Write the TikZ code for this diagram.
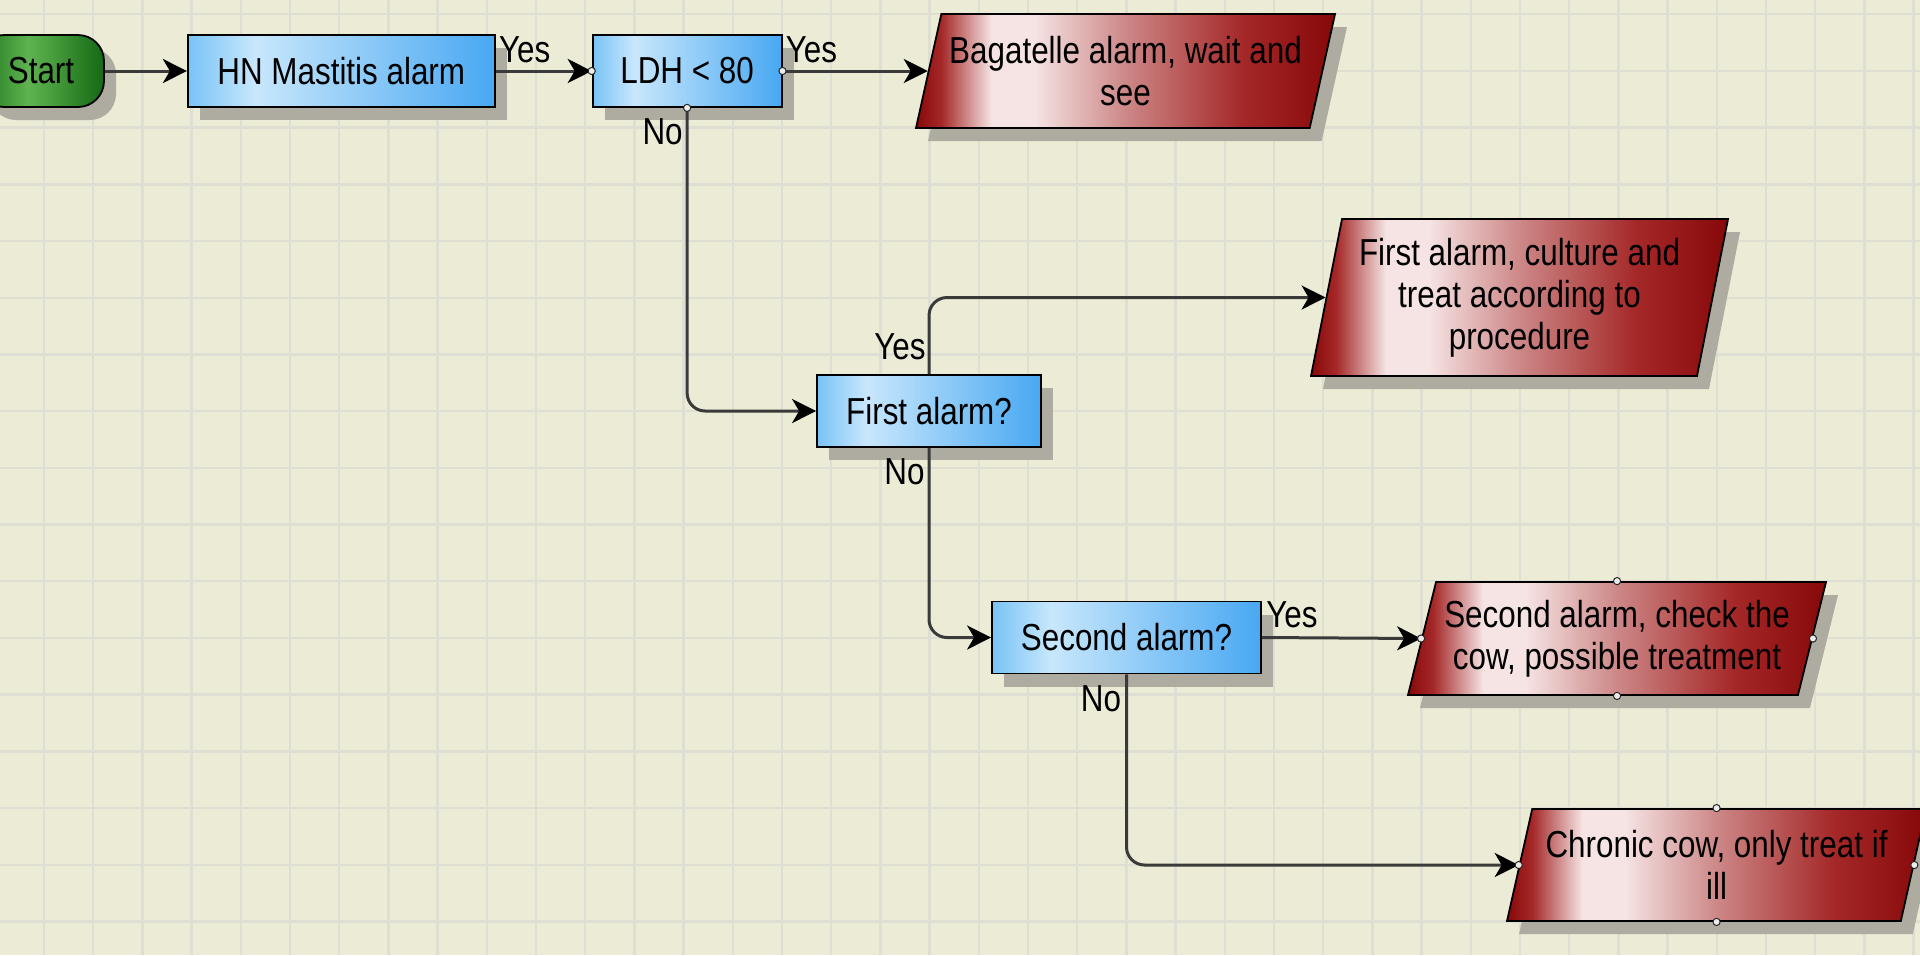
\documentclass[tikz,border=0pt]{standalone}
\usepackage{fontspec}
\setmainfont[FakeStretch=0.835]{Liberation Sans}
\usepackage{xcolor}
\usepackage{tikz}
\usetikzlibrary{positioning, shapes.geometric, arrows.meta, shadows}

\definecolor{paper}{RGB}{236,236,214}
\definecolor{gridgrey}{RGB}{222,222,210}
\definecolor{shadowgrey}{RGB}{174,172,160}
\definecolor{wire}{RGB}{58,58,58}
\definecolor{blueA}{RGB}{120,195,246}
\definecolor{blueB}{RGB}{200,231,252}
\definecolor{blueC}{RGB}{72,168,242}
\definecolor{redA}{RGB}{135,8,8}
\definecolor{redB}{RGB}{246,228,228}
\definecolor{redC}{RGB}{205,135,135}
\definecolor{redD}{RGB}{165,40,40}
\definecolor{greenA}{RGB}{30,115,28}
\definecolor{greenB}{RGB}{95,180,80}
\definecolor{greenC}{RGB}{20,105,20}

\pgfdeclarehorizontalshading{boxglow}{100bp}{color(0bp)=(blueA); color(25bp)=(blueA); color(36bp)=(blueB); color(75bp)=(blueC); color(100bp)=(blueC)}
\pgfdeclarehorizontalshading{alarmglow}{100bp}{color(0bp)=(redA); color(25bp)=(redA); color(28bp)=(redD); color(34bp)=(redB); color(39bp)=(redB); color(50bp)=(redC); color(64bp)=(redD); color(75bp)=(redA); color(100bp)=(redA)}
\pgfdeclarehorizontalshading{startglow}{100bp}{color(0bp)=(greenA); color(25bp)=(greenA); color(45bp)=(greenB); color(75bp)=(greenC); color(100bp)=(greenC)}

\tikzset{
  gridline/.style={draw=gridgrey, line width=1.2pt},
  boxshadow/.style={drop shadow={shadow xshift=6pt, shadow yshift=-6.5pt, fill=shadowgrey, opacity=1}},
  startbox/.style={draw=black, line width=0.9pt, rectangle, rounded corners=13pt, minimum width=63pt, minimum height=36pt, inner sep=0pt, shade, shading=startglow, boxshadow},
  flowbox/.style={draw=black, line width=0.9pt, rectangle, minimum height=36pt, inner sep=0pt, shade, shading=boxglow, boxshadow},
  alarmbox/.style={draw=black, line width=0.9pt, trapezium, trapezium stretches body, inner xsep=-6pt, inner ysep=0pt, align=center, shade, shading=alarmglow, boxshadow},
  flow/.style={draw=wire, line width=1.5pt, rounded corners=9pt, -{Stealth[length=12pt, width=12pt, inset=3.5pt, color=black]}},
  lbl/.style={inner sep=0pt},
  port/.style={draw=black!85, fill=white!85!gray, line width=0.5pt}
}

\begin{document}
\begin{tikzpicture}[x=0.5pt, y=-0.5pt, font=\fontsize{18.8pt}{21pt}\selectfont]
    \useasboundingbox (0,0) rectangle (1920,955);
    % Paper
    \fill[paper] (0,0) rectangle (1920,955);
    \foreach \k in {0,...,38}
        \draw[gridline] ({44+49.2*\k},0) -- ({44+49.2*\k},955);
    \foreach \k in {0,...,16}
        \draw[gridline] (0,{14.2+56.7*\k}) -- (1920,{14.2+56.7*\k});

    % Nodes
    \node[startbox] (start) at (41,71) {Start};
    \node[flowbox, minimum width=153.5pt, right=41pt of start] (hn) {HN Mastitis alarm};
    \node[flowbox, minimum width=94.5pt, right=48pt of hn] (ldh) {LDH < 80};
    \node[alarmbox, trapezium left angle=70, trapezium right angle=110, minimum width=209.5pt, minimum height=57pt] (bagatelle) at (1125.5,71) {Bagatelle alarm, wait and\\see};
    \node[flowbox, minimum width=112pt] (first) at (929,411) {First alarm?};
    \node[alarmbox, trapezium left angle=75.4, trapezium right angle=104.6, minimum width=208.5pt, minimum height=78.5pt] (culture) at (1519.5,297.5) {First alarm, culture and\\treat according to\\procedure};
    \node[flowbox, minimum width=134.5pt] (second) at (1126.5,637.5) {Second alarm?};
    \node[alarmbox, trapezium left angle=70, trapezium right angle=110, minimum width=209pt, minimum height=56.5pt] (check) at (1617,638.5) {Second alarm, check the\\cow, possible treatment};
    \node[alarmbox, trapezium left angle=70, trapezium right angle=110, minimum width=209.5pt, minimum height=56pt] (chronic) at (1716.5,865) {Chronic cow, only treat if\\ill};

    % Labels
    \node[lbl, anchor=base west] (hnyes) at ([shift={(1.5pt,4.5pt)}]hn.east) {Yes};
    \node[lbl, anchor=base west] (ldhyes) at ([shift={(1.5pt,4.5pt)}]ldh.east) {Yes};
    \node[lbl, anchor=base east] (ldhno) at ([shift={(-2pt,-18.5pt)}]ldh.south) {No};
    \node[lbl, anchor=base east] (firstyes) at ([shift={(-1.5pt,7.5pt)}]first.north) {Yes};
    \node[lbl, anchor=base east] (firstno) at ([shift={(-2pt,-18.5pt)}]first.south) {No};
    \node[lbl, anchor=base west] (secondyes) at ([shift={(2pt,5pt)}]second.east) {Yes};
    \node[lbl, anchor=base east] (secondno) at ([shift={(-2.5pt,-18.5pt)}]second.south) {No};

    % Connections
    \draw[flow] (start) -- (hn);
    \draw[flow] (hn) -- (ldh);
    \draw[flow] (ldh.east) -- (bagatelle.left side);
    \draw[flow] (ldh.south) |- (first.west);
    \draw[flow] (first.north) |- (culture.left side);
    \draw[flow] (first.south) |- (second.west);
    \draw[flow] (second.east) -- (check.left side);
    \draw[flow] (second.south) |- (chronic.left side);

    % Ports
    \foreach \p in {ldh.west, ldh.east, ldh.south, check.north, check.south, check.left side, check.right side, chronic.north, chronic.south, chronic.left side, chronic.right side}
        \draw[port] (\p) circle (1.8pt);
\end{tikzpicture}
\end{document}
